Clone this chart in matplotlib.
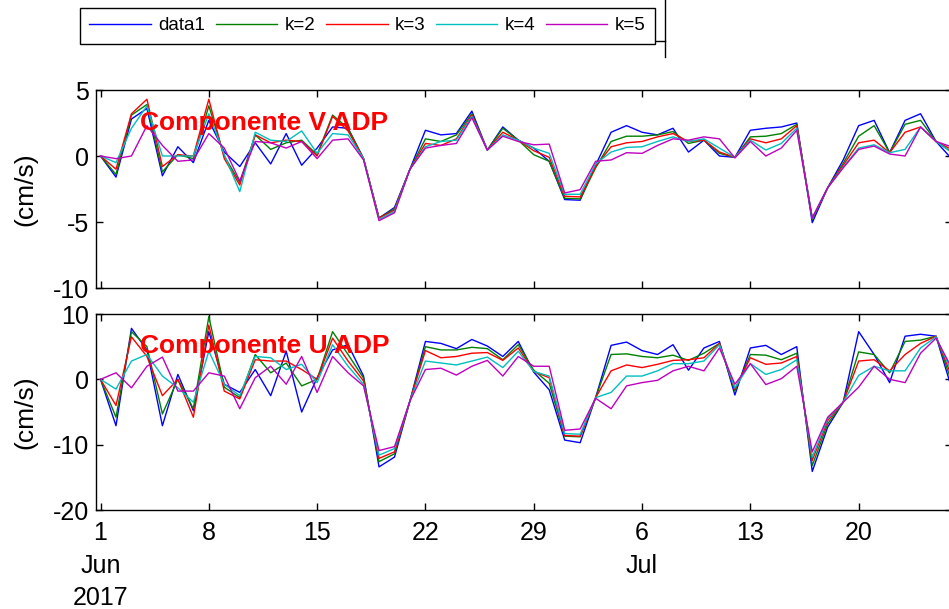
import numpy as np
import pandas as pd
import matplotlib
matplotlib.use("Agg")
import matplotlib.pyplot as plt
from matplotlib import font_manager as fm
from matplotlib.lines import Line2D

# ---------------------------------------------------------------- data
dates = pd.date_range("2017-06-01", "2017-07-26", freq="D")
series_labels = ["data1", "k=2", "k=3", "k=4", "k=5"]
series_colors = [(0, 0, 1), (0, 0.5, 0), (1, 0, 0), (0, 0.75, 0.75), (0.75, 0, 0.75)]

# V component (cm/s)
v_data1 = [0, -1.6, 2.8, 3.6, -1.5, 0.7, -0.5, 2.7, 0.3, -0.8, 1.0, -0.6, 1.7, -0.7,
           0.6, 2.2, 2.1, -0.2, -4.7, -3.9, -1.0, 1.95, 1.6, 1.7, 3.4, 0.45, 2.2, 1.2,
           0.6, -0.4, -3.3, -3.35, -0.7, 1.8, 2.3, 1.8, 1.6, 2.1, 0.3, 1.2, 0.0, -0.1,
           1.95, 2.1, 2.2, 2.5, -5.05, -2.4, -0.3, 2.3, 2.7, 0.25, 2.7, 3.2, 1.1, -0.2]
v_k2 = [0, -1.4, 3.1, 3.9, -1.2, 0.1, -0.2, 3.8, 0.0, -2.0, 1.6, 0.5, 1.0, 1.2,
        0.1, 3.1, 2.1, -0.2, -4.7, -4.0, -1.0, 1.3, 1.1, 1.6, 3.2, 0.45, 2.1, 1.2,
        0.1, -0.4, -3.2, -3.25, -0.9, 1.1, 1.5, 1.5, 1.6, 1.85, 0.95, 1.2, 0.2, -0.1,
        1.45, 1.5, 1.7, 2.4, -4.8, -2.4, -0.55, 1.5, 2.3, 0.25, 2.4, 2.7, 1.1, 0.3]
v_k3 = [0, -1.0, 3.2, 4.3, -0.8, 0.1, 0.0, 4.3, -0.2, -2.2, 1.6, 1.0, 1.2, 1.1,
        0.0, 3.0, 1.9, -0.2, -4.7, -4.1, -1.0, 0.95, 0.8, 1.3, 3.1, 0.45, 1.8, 1.2,
        0.4, -0.1, -3.05, -3.1, -0.8, 0.7, 1.0, 1.1, 1.45, 1.7, 1.1, 1.2, 0.3, -0.1,
        1.3, 1.0, 1.3, 2.3, -4.7, -2.4, -0.7, 1.0, 1.2, 0.25, 1.8, 2.2, 1.1, 0.5]
v_k4 = [0, -0.5, 2.1, 3.8, 0.0, 0.0, 0.0, 3.2, 0.1, -2.7, 1.8, 1.2, 1.1, 1.9,
        0.2, 1.7, 1.6, -0.2, -4.8, -4.2, -1.0, 0.7, 1.1, 1.2, 3.0, 0.45, 1.6, 1.2,
        0.6, 0.2, -2.9, -2.9, -0.6, 0.3, 0.65, 0.7, 1.1, 1.45, 1.1, 1.3, 0.6, -0.1,
        1.2, 0.45, 0.95, 2.1, -4.7, -2.4, -0.85, 0.6, 0.85, 0.25, 0.5, 2.2, 1.1, 0.3]
v_k5 = [0, -0.2, 0.0, 2.3, 0.8, -0.4, -0.3, 1.7, 0.6, -1.9, 1.1, 1.0, 0.6, 1.1,
        -0.2, 1.2, 1.3, -0.3, -4.9, -4.3, -1.0, 0.6, 0.8, 0.95, 2.9, 0.45, 1.5, 1.1,
        0.85, 0.9, -2.8, -2.55, -0.4, -0.3, 0.25, 0.2, 0.8, 1.3, 1.2, 1.45, 1.3, -0.15,
        1.1, 0.0, 0.6, 1.95, -4.7, -2.4, -0.9, 0.5, 0.75, 0.15, 0.0, 2.2, 1.1, 0.7]

# U component (cm/s)
u_data1 = [0, -7.1, 7.8, 4.5, -7.1, 0.75, -4.8, 7.3, -0.75, -2.0, 1.5, -2.5, 4.3, -5.0,
           0.25, 4.5, 5.3, 0.5, -13.4, -11.9, -3.3, 5.8, 5.5, 4.7, 6.1, 5.1, 3.5, 5.8,
           1.1, -1.6, -9.3, -9.7, -2.8, 5.2, 5.7, 4.4, 3.8, 5.3, 1.4, 4.8, 5.8, -2.4,
           4.8, 5.2, 3.8, 5.0, -14.1, -7.3, -3.5, 7.3, 3.8, -0.5, 6.6, 6.9, 6.6, -1.3]
u_k2 = [0, -5.8, 7.3, 5.0, -5.3, 0.0, -4.5, 9.6, -1.2, -2.8, 3.8, 1.0, 2.5, -1.0,
        0.0, 7.3, 3.8, 0.2, -12.6, -11.4, -3.3, 5.0, 4.5, 4.5, 4.9, 4.7, 3.0, 5.3,
        1.4, -0.6, -8.7, -8.8, -2.8, 3.8, 3.9, 3.5, 3.3, 3.7, 2.9, 4.0, 5.5, -1.8,
        3.8, 3.7, 3.0, 4.0, -13.2, -6.8, -3.5, 4.2, 3.8, 1.0, 5.8, 6.0, 6.6, -0.3]
u_k3 = [0, -4.0, 6.5, 3.5, -2.5, 0.0, -5.8, 8.3, -1.8, -3.0, 3.0, 2.8, 2.8, 1.5,
        0.0, 6.3, 2.8, -0.25, -12.1, -11.1, -3.3, 4.4, 3.3, 3.5, 4.0, 4.1, 2.9, 4.8,
        1.2, 0.25, -8.6, -8.7, -2.8, 1.3, 2.2, 1.8, 2.3, 2.9, 3.0, 3.3, 5.5, -1.5,
        3.3, 2.3, 2.5, 3.5, -12.4, -6.3, -3.5, 2.8, 3.0, 1.3, 3.8, 5.5, 6.6, 0.5]
u_k4 = [0, -1.5, 2.8, 3.8, 0.5, -1.3, -3.5, 4.3, -0.75, -2.5, 3.5, 3.3, 1.5, 2.3,
        -0.5, 5.3, 2.0, -0.75, -11.6, -10.6, -3.3, 2.8, 2.5, 2.2, 2.8, 3.4, 1.8, 4.3,
        1.2, 0.5, -8.3, -8.4, -2.8, -2.0, 0.5, 0.5, 1.3, 2.4, 2.4, 2.8, 5.3, -1.3,
        2.4, 0.75, 1.5, 3.0, -11.9, -6.0, -3.5, 0.6, 2.0, 1.3, 1.3, 4.8, 6.5, 1.2]
u_k5 = [0, 1.0, -1.3, 2.0, 3.4, -1.8, -1.8, 1.0, 0.5, -4.5, 0.25, 2.0, -0.75, 3.5,
        -2.0, 3.5, 1.0, -1.0, -10.9, -10.3, -3.3, 1.5, 1.7, 0.65, 2.0, 2.9, 0.5, 3.5,
        2.0, 2.0, -7.8, -7.6, -2.9, -4.5, -1.0, -0.5, -0.15, 1.3, 2.0, 1.3, 4.8, -0.75,
        2.4, -0.8, 0.1, 2.0, -11.1, -5.8, -3.5, -1.2, 2.0, 0.0, -0.5, 4.0, 6.3, 1.8]

v_series = [v_data1, v_k2, v_k3, v_k4, v_k5]
u_series = [u_data1, u_k2, u_k3, u_k4, u_k5]

# ---------------------------------------------------------------- style
available = {f.name for f in fm.fontManager.ttflist}
narrow = "Liberation Sans Narrow" if "Liberation Sans Narrow" in available else "Liberation Sans"
plt.rcParams["font.family"] = [narrow, "DejaVu Sans"]
plt.rcParams["axes.linewidth"] = 1.0
plt.rcParams["axes.unicode_minus"] = False

W, H = 949, 609
fig = plt.figure(figsize=(W / 100, H / 100), dpi=100)
fig.patch.set_facecolor("white")


def fig_rect(left, top, right, bottom):
    return [left / W, 1 - bottom / H, (right - left) / W, (bottom - top) / H]


AX_LEFT, AX_RIGHT = 96, 951.5
ax_v = fig.add_axes(fig_rect(AX_LEFT, 90, AX_RIGHT, 288))
ax_u = fig.add_axes(fig_rect(AX_LEFT, 314, AX_RIGHT, 510))

start = pd.Timestamp("2017-06-01")
x_lo = start - pd.Timedelta(hours=7)
x_hi = start + pd.Timedelta(days=55)
tick_dates = pd.date_range(start, x_hi, freq="7D")


def date_label(i, d):
    parts = [str(d.day)]
    if i == 0 or d.month != tick_dates[i - 1].month:
        parts.append(d.strftime("%b"))
    if i == 0:
        parts.append(str(d.year))
    return "\n".join(parts)


tick_labels = [date_label(i, d) for i, d in enumerate(tick_dates)]

panels = [
    (ax_v, v_series, (-10, 5), [-10, -5, 0, 5], "Componente V ADP"),
    (ax_u, u_series, (-20, 10), [-20, -10, 0, 10], "Componente U ADP"),
]

handles = []
for ax, series, ylim, yticks, title in panels:
    for vals, col, lab in zip(series, series_colors, series_labels):
        ln, = ax.plot(dates, vals, color=col, lw=1.0, label=lab)
        if ax is ax_v:
            handles.append(ln)
    ax.set_xlim(x_lo, x_hi)
    ax.set_ylim(*ylim)
    ax.set_yticks(yticks)
    ax.set_xticks(tick_dates)
    ax.tick_params(direction="in", length=5, width=1.0, top=True, right=True,
                   labelsize=18, pad=5, colors="black")
    ax.set_ylabel("(cm/s)", fontsize=19)
    ax.yaxis.set_label_coords(-(AX_LEFT - 37) / (AX_RIGHT - AX_LEFT), 0.5)
    ax.text(0.0514, 0.80, title, transform=ax.transAxes, color="red",
            fontsize=19, fontweight="bold", family="Liberation Sans", va="baseline")

ax_v.set_xticklabels([])
ax_u.set_xticklabels(tick_labels)
ax_u.tick_params(axis="x", pad=8)
for lbl in ax_u.get_xticklabels():
    lbl.set_linespacing(1.45)

leg = fig.legend(handles, series_labels, loc="upper left",
                 bbox_to_anchor=(80 / W, 1 - 8 / H), ncol=5, fontsize=13.5,
                 frameon=True, fancybox=False, edgecolor="black", framealpha=1,
                 borderaxespad=0, handlelength=3.3, handletextpad=0.38,
                 columnspacing=0.55, borderpad=0.5)
leg.get_frame().set_linewidth(1.0)

# neighbouring frame edge on the right of the legend
fig.add_artist(Line2D([665 / W, 665 / W], [1, 1 - 57 / H], transform=fig.transFigure,
                      color="black", lw=1.0))
fig.add_artist(Line2D([656 / W, 665 / W], [1 - 41 / H, 1 - 41 / H], transform=fig.transFigure,
                      color="black", lw=1.0))

fig.savefig("out.png", dpi=100)
